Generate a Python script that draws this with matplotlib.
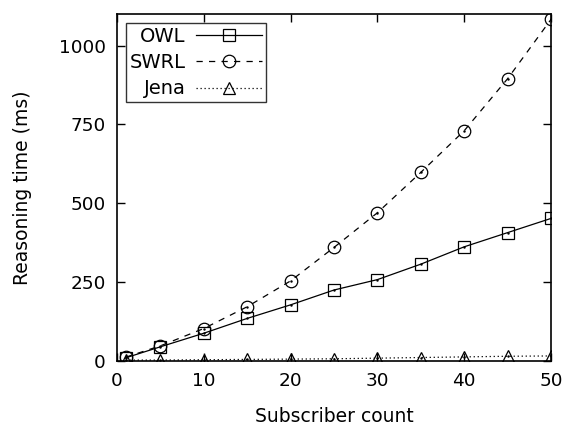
import matplotlib
matplotlib.use("Agg")
import matplotlib.pyplot as plt

subscribers = [1, 5, 10, 15, 20, 25, 30, 35, 40, 45, 50]
owl_ms = [10, 45, 88, 135, 178, 225, 258, 307, 362, 407, 452]
swrl_ms = [12, 48, 103, 172, 254, 360, 470, 598, 730, 895, 1083]
jena_ms = [3, 3, 4, 5, 6, 7, 9, 11, 13, 15, 16]

x_ticks = [0, 10, 20, 30, 40, 50]
y_ticks = [0, 250, 500, 750, 1000]

plt.rcParams['font.family'] = ['DejaVu Sans']
fig = plt.figure(figsize=(5.64, 4.26), dpi=100)
ax = fig.add_axes([0.2074, 0.1526, 0.7696, 0.8145])

common = dict(color='black', linewidth=0.9, markersize=9,
              markerfacecolor='none', markeredgecolor='black', markeredgewidth=0.9)
ax.plot(subscribers, owl_ms, linestyle='-', marker='s', label='OWL', **common)
ax.plot(subscribers, swrl_ms, linestyle=(0, (5, 5)), marker='o', label='SWRL', **common)
ax.plot(subscribers, jena_ms, linestyle=(0, (1, 2.2)), marker='^', label='Jena', **common)
# small centre dots inside each point symbol
for ys in (owl_ms, swrl_ms, jena_ms):
    ax.plot(subscribers, ys, linestyle='none', marker='.', markersize=1.5, color='black')

ax.set_xlim(0, 50)
ax.set_ylim(0, 1100)
ax.set_xticks(x_ticks)
ax.set_yticks(y_ticks)
ax.tick_params(direction='in', length=6, width=1.0, top=True, right=True,
               labelsize=13.3, pad=8)
for s in ax.spines.values():
    s.set_linewidth(1.2)
ax.set_xlabel('Subscriber count', fontsize=13.5, labelpad=12)
ax.set_ylabel('Reasoning time (ms)', fontsize=13.5, labelpad=19)

leg = ax.legend(loc='upper left', markerfirst=False, handlelength=3.4,
                fontsize=14, fancybox=False, frameon=True, numpoints=1,
                borderaxespad=0.45, handletextpad=0.55, labelspacing=0.38,
                borderpad=0.2)
leg.get_frame().set_edgecolor('black')
leg.get_frame().set_linewidth(1.0)

fig.savefig('out.png', dpi=100)
